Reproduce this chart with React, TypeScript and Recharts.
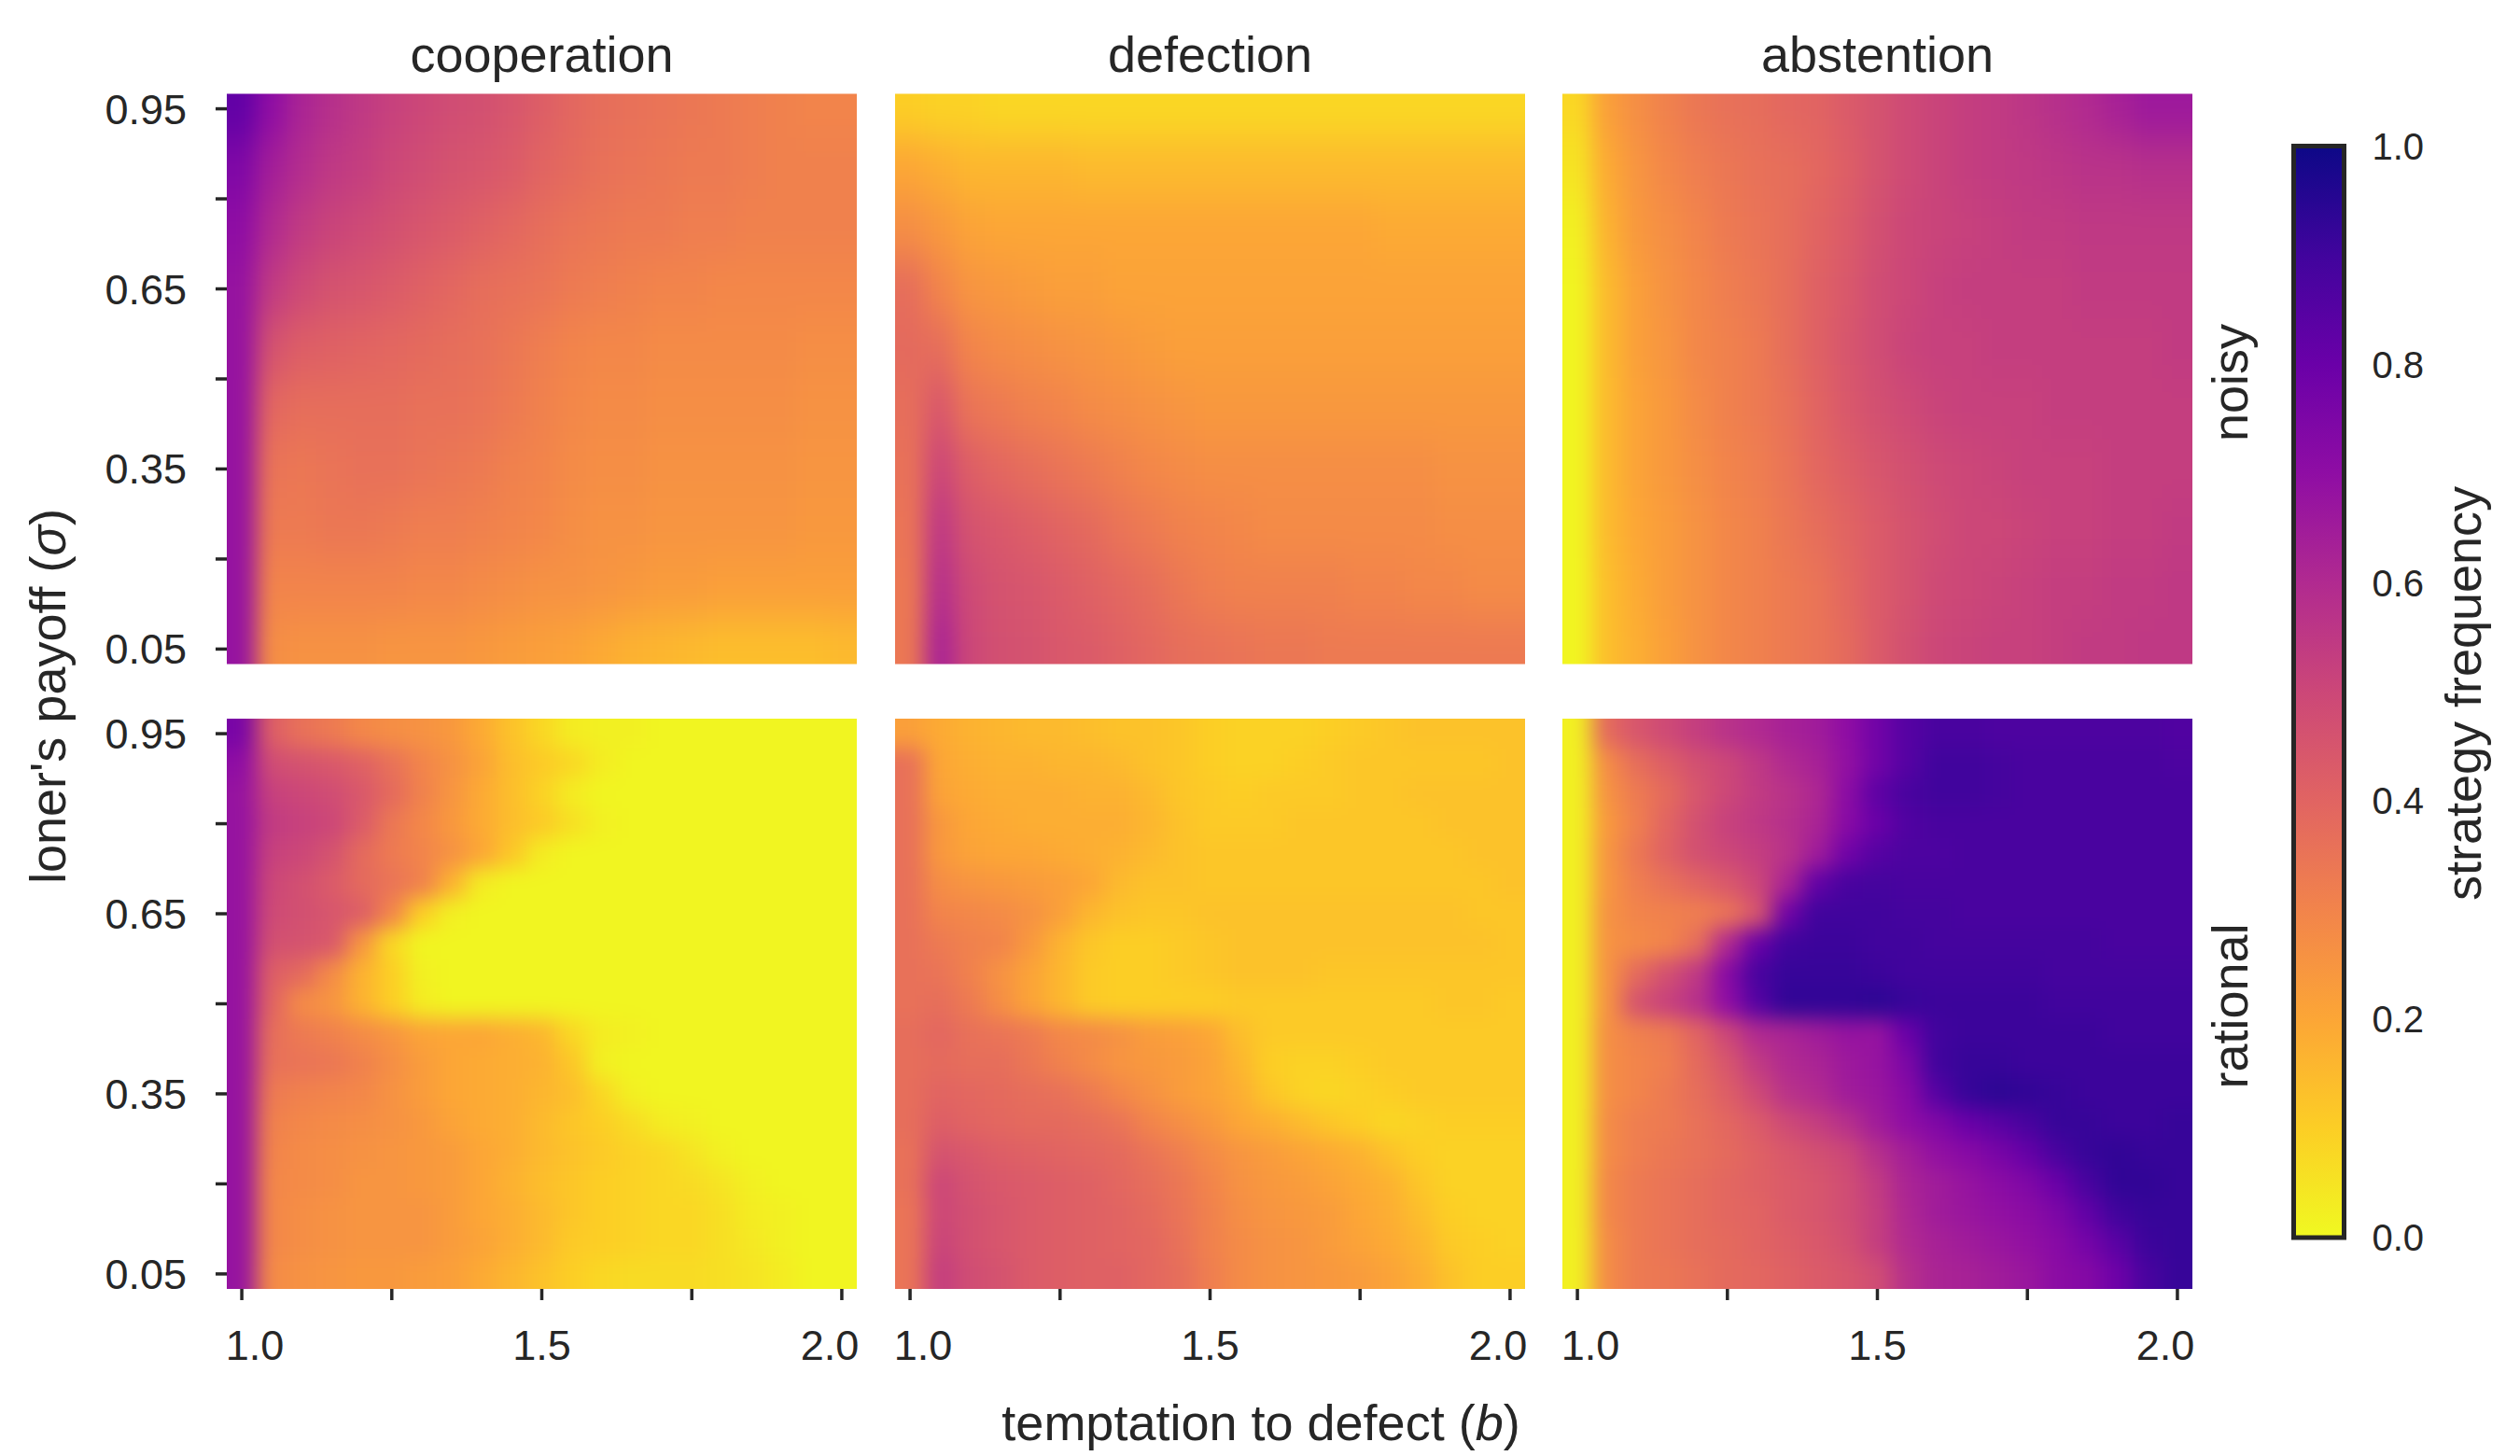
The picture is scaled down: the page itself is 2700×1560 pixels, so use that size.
import React from 'react';
import { ScatterChart, Scatter, XAxis, YAxis, BarChart, Bar } from 'recharts';

const temptation = [1, 1.05, 1.1, 1.15, 1.2, 1.25, 1.3, 1.35, 1.4, 1.45, 1.5, 1.55, 1.6, 1.65, 1.7, 1.75, 1.8, 1.85, 1.9, 1.95, 2];
const sigmaNoisy = [0.95, 0.85, 0.75, 0.65, 0.55, 0.45, 0.35, 0.25, 0.15, 0.05];
const sigmaRational = [0.95, 0.9, 0.85, 0.8, 0.75, 0.7, 0.65, 0.6, 0.55, 0.5, 0.45, 0.4, 0.35, 0.3, 0.25, 0.2, 0.15, 0.1, 0.05];

// percentages, one row per sigma (top to bottom), one column per b
const noisyCooperation = [
  [82, 70, 62, 58, 55, 52, 50, 48, 47, 45, 42, 39, 37, 36, 35, 34, 33, 32, 31, 30, 30],
  [74, 64, 59, 55, 53, 50, 48, 46, 45, 43, 40, 38, 36, 35, 34, 33, 33, 32, 31, 31, 31],
  [70, 60, 54, 51, 49, 47, 45, 43, 41, 39, 37, 35, 34, 33, 33, 32, 32, 31, 31, 31, 31],
  [68, 54, 49, 46, 45, 43, 41, 39, 37, 36, 35, 33, 32, 31, 30, 30, 29, 29, 29, 29, 29],
  [68, 46, 42, 41, 40, 39, 38, 37, 36, 34, 32, 30, 29, 29, 28, 28, 28, 28, 28, 27, 27],
  [68, 39, 37, 37, 37, 37, 36, 36, 35, 33, 31, 29, 28, 28, 27, 27, 27, 27, 27, 26, 26],
  [68, 35, 34, 35, 36, 36, 35, 34, 33, 31, 30, 28, 27, 27, 26, 26, 26, 26, 26, 25, 25],
  [68, 33, 33, 34, 34, 33, 32, 32, 31, 30, 29, 27, 26, 26, 25, 25, 25, 25, 25, 24, 24],
  [68, 30, 30, 30, 30, 30, 29, 29, 28, 27, 26, 26, 25, 24, 23, 23, 22, 22, 22, 22, 22],
  [68, 27, 26, 26, 26, 25, 25, 25, 24, 23, 22, 21, 19, 17, 16, 15, 14, 14, 14, 14, 15],
];
const noisyDefection = [
  [10, 9, 9, 8, 8, 8, 8, 8, 8, 8, 8, 8, 8, 8, 8, 8, 8, 8, 8, 8, 8],
  [20, 18, 16, 16, 16, 16, 15, 15, 15, 15, 15, 15, 15, 15, 15, 15, 15, 15, 15, 15, 15],
  [27, 24, 21, 20, 20, 20, 20, 20, 20, 20, 20, 20, 20, 20, 20, 20, 19, 19, 19, 19, 19],
  [37, 30, 25, 24, 23, 22, 22, 21, 21, 21, 21, 21, 21, 21, 21, 21, 21, 21, 21, 21, 21],
  [38, 37, 30, 28, 27, 26, 25, 24, 23, 22, 22, 22, 22, 22, 22, 22, 22, 22, 22, 22, 22],
  [37, 44, 35, 33, 31, 30, 28, 27, 26, 25, 24, 24, 24, 24, 24, 24, 24, 24, 24, 24, 24],
  [36, 50, 42, 39, 37, 35, 33, 31, 29, 28, 27, 27, 27, 27, 27, 27, 27, 27, 26, 26, 26],
  [35, 55, 46, 44, 42, 40, 38, 35, 33, 31, 30, 29, 28, 28, 28, 28, 28, 28, 27, 27, 27],
  [34, 58, 49, 46, 45, 43, 41, 39, 37, 34, 32, 31, 31, 31, 31, 30, 30, 29, 29, 28, 28],
  [34, 62, 50, 47, 46, 44, 43, 41, 39, 37, 36, 35, 34, 34, 33, 33, 33, 33, 33, 33, 33],
];
const noisyAbstention = [
  [8, 22, 27, 31, 34, 36, 37, 39, 40, 43, 46, 49, 51, 53, 54, 56, 58, 60, 63, 66, 66],
  [5, 19, 25, 29, 32, 34, 36, 37, 39, 42, 46, 49, 51, 53, 54, 55, 56, 57, 57, 58, 58],
  [2, 17, 24, 27, 30, 33, 35, 37, 40, 43, 47, 50, 51, 52, 53, 54, 54, 55, 55, 55, 55],
  [1, 15, 22, 26, 29, 32, 34, 37, 41, 44, 48, 50, 52, 53, 53, 53, 53, 54, 54, 54, 54],
  [1, 15, 22, 25, 29, 31, 33, 37, 41, 45, 48, 51, 52, 52, 53, 53, 53, 53, 53, 53, 54],
  [1, 15, 21, 24, 28, 31, 33, 36, 40, 44, 47, 49, 51, 52, 52, 52, 53, 53, 53, 53, 53],
  [1, 15, 21, 24, 27, 30, 32, 35, 39, 42, 45, 47, 49, 50, 51, 52, 52, 52, 53, 53, 53],
  [1, 15, 20, 23, 26, 29, 31, 34, 37, 40, 43, 46, 48, 50, 50, 51, 52, 52, 53, 53, 54],
  [1, 14, 19, 23, 26, 29, 31, 33, 35, 39, 43, 46, 49, 50, 51, 52, 53, 53, 54, 54, 55],
  [1, 14, 18, 22, 26, 29, 31, 33, 35, 38, 43, 47, 50, 51, 52, 52, 53, 54, 54, 55, 55],
];
const rationalCooperation = [
  [76, 42, 36, 33, 29, 27, 26, 24, 19, 13, 8, 3, 2, 2, 1, 1, 1, 1, 1, 1, 1],
  [70, 48, 46, 44, 41, 36, 30, 26, 21, 14, 11, 8, 3, 1, 1, 1, 1, 1, 1, 1, 1],
  [68, 52, 50, 48, 44, 38, 31, 25, 19, 14, 9, 3, 1, 1, 1, 1, 1, 1, 1, 1, 1],
  [68, 54, 52, 50, 43, 34, 29, 24, 19, 14, 11, 6, 2, 1, 1, 1, 1, 1, 1, 1, 1],
  [68, 52, 50, 46, 38, 33, 30, 26, 20, 12, 3, 1, 1, 1, 1, 1, 1, 1, 1, 1, 1],
  [68, 50, 47, 43, 38, 35, 31, 17, 3, 1, 1, 1, 1, 1, 1, 1, 1, 1, 1, 1, 1],
  [68, 49, 47, 45, 42, 30, 10, 2, 1, 1, 1, 1, 1, 1, 1, 1, 1, 1, 1, 1, 1],
  [68, 47, 46, 44, 25, 8, 1, 1, 1, 1, 1, 1, 1, 1, 1, 1, 1, 1, 1, 1, 1],
  [68, 42, 38, 28, 17, 10, 2, 1, 1, 1, 1, 1, 1, 1, 1, 1, 1, 1, 1, 1, 1],
  [68, 40, 28, 25, 17, 10, 3, 1, 1, 1, 1, 1, 1, 1, 1, 1, 1, 1, 1, 1, 1],
  [68, 37, 33, 31, 28, 25, 21, 20, 20, 18, 16, 8, 3, 2, 1, 1, 1, 1, 1, 1, 1],
  [68, 36, 35, 34, 31, 27, 23, 20, 19, 18, 17, 12, 2, 1, 1, 1, 1, 1, 1, 1, 1],
  [68, 33, 31, 30, 29, 26, 23, 20, 19, 18, 16, 14, 8, 2, 1, 1, 1, 1, 1, 1, 1],
  [68, 31, 29, 28, 27, 26, 24, 21, 19, 18, 15, 12, 10, 7, 3, 2, 1, 1, 1, 1, 1],
  [68, 30, 28, 27, 26, 25, 24, 23, 20, 18, 15, 13, 11, 9, 8, 5, 2, 1, 1, 1, 1],
  [68, 29, 28, 27, 25, 25, 24, 23, 20, 17, 14, 12, 10, 9, 8, 7, 5, 2, 1, 1, 1],
  [68, 29, 27, 26, 25, 25, 25, 23, 20, 18, 15, 12, 10, 9, 8, 8, 6, 3, 2, 1, 1],
  [68, 29, 27, 26, 25, 25, 25, 23, 21, 18, 15, 11, 10, 9, 8, 8, 6, 4, 2, 1, 1],
  [68, 28, 26, 25, 24, 24, 23, 22, 19, 16, 13, 10, 8, 7, 7, 7, 6, 5, 3, 1, 1],
];
const rationalDefection = [
  [22, 19, 17, 16, 15, 15, 14, 13, 13, 12, 10, 9, 9, 9, 10, 11, 12, 13, 13, 13, 13],
  [36, 20, 18, 17, 17, 16, 16, 15, 13, 12, 10, 9, 9, 10, 11, 12, 12, 12, 12, 12, 13],
  [36, 21, 19, 18, 18, 18, 17, 17, 15, 12, 11, 10, 11, 11, 11, 12, 12, 13, 13, 13, 13],
  [36, 24, 20, 19, 18, 18, 18, 18, 16, 13, 11, 11, 11, 12, 12, 12, 12, 12, 13, 13, 13],
  [36, 24, 21, 20, 20, 19, 18, 17, 15, 13, 12, 12, 12, 12, 12, 12, 12, 12, 12, 13, 13],
  [36, 27, 25, 24, 23, 22, 20, 15, 13, 13, 12, 12, 12, 12, 12, 12, 12, 12, 12, 12, 13],
  [36, 30, 29, 28, 26, 22, 16, 13, 12, 12, 13, 13, 13, 13, 13, 13, 13, 13, 13, 12, 12],
  [36, 33, 31, 30, 24, 17, 12, 10, 10, 11, 12, 13, 13, 13, 13, 13, 13, 13, 13, 13, 12],
  [36, 35, 31, 26, 21, 16, 11, 10, 10, 11, 12, 13, 13, 13, 12, 12, 12, 12, 12, 12, 12],
  [36, 37, 33, 27, 21, 16, 11, 10, 10, 10, 10, 11, 11, 11, 11, 11, 11, 11, 12, 12, 11],
  [37, 39, 36, 35, 33, 29, 28, 26, 23, 22, 20, 14, 11, 11, 11, 11, 11, 11, 11, 11, 11],
  [37, 38, 37, 37, 34, 31, 28, 25, 24, 23, 21, 16, 10, 9, 9, 10, 11, 11, 11, 11, 11],
  [37, 40, 39, 38, 37, 36, 33, 29, 26, 23, 21, 18, 12, 9, 8, 9, 10, 11, 11, 11, 11],
  [37, 42, 40, 39, 38, 38, 37, 35, 30, 27, 24, 20, 18, 15, 12, 10, 8, 9, 10, 10, 10],
  [36, 46, 44, 42, 41, 40, 39, 38, 35, 32, 28, 25, 23, 21, 19, 17, 13, 10, 9, 9, 9],
  [36, 50, 46, 44, 43, 42, 41, 39, 37, 34, 30, 26, 24, 23, 21, 19, 17, 12, 9, 9, 9],
  [35, 50, 47, 45, 43, 42, 41, 40, 38, 35, 31, 27, 25, 24, 23, 20, 18, 14, 10, 9, 9],
  [35, 51, 47, 45, 43, 42, 41, 40, 39, 36, 31, 28, 26, 25, 23, 21, 19, 16, 11, 10, 9],
  [35, 53, 48, 46, 43, 42, 41, 41, 39, 37, 32, 28, 26, 25, 24, 23, 21, 18, 13, 10, 10],
];
const rationalAbstention = [
  [2, 38, 45, 49, 53, 57, 60, 63, 65, 70, 78, 85, 88, 88, 87, 87, 87, 87, 87, 87, 86],
  [2, 28, 37, 42, 47, 50, 55, 60, 63, 69, 78, 85, 90, 90, 89, 88, 88, 88, 88, 88, 87],
  [2, 26, 33, 38, 45, 50, 54, 57, 61, 71, 83, 88, 90, 90, 89, 88, 88, 88, 88, 88, 88],
  [2, 24, 32, 40, 47, 52, 55, 58, 62, 72, 80, 86, 88, 88, 88, 88, 88, 88, 88, 88, 88],
  [2, 25, 34, 41, 47, 50, 53, 57, 65, 78, 85, 87, 87, 88, 88, 88, 88, 88, 88, 88, 88],
  [2, 25, 32, 36, 40, 44, 50, 62, 82, 88, 89, 88, 88, 88, 88, 88, 88, 88, 88, 88, 88],
  [2, 26, 30, 31, 32, 35, 45, 78, 90, 90, 90, 89, 89, 88, 88, 88, 88, 88, 88, 88, 88],
  [2, 26, 28, 30, 37, 60, 80, 90, 91, 91, 90, 90, 89, 89, 89, 89, 89, 89, 88, 88, 88],
  [2, 26, 38, 47, 55, 72, 88, 92, 92, 92, 91, 90, 90, 90, 90, 90, 89, 89, 89, 89, 89],
  [2, 26, 46, 52, 58, 70, 85, 93, 93, 93, 94, 92, 91, 91, 91, 91, 90, 90, 90, 90, 90],
  [2, 27, 31, 33, 40, 50, 60, 62, 65, 68, 68, 80, 90, 91, 91, 91, 91, 91, 90, 90, 90],
  [2, 27, 30, 32, 38, 45, 54, 60, 62, 66, 68, 75, 90, 92, 92, 91, 91, 91, 91, 91, 91],
  [2, 27, 30, 33, 37, 42, 49, 57, 60, 65, 67, 72, 85, 92, 94, 93, 92, 91, 91, 91, 91],
  [2, 28, 32, 33, 36, 39, 43, 49, 53, 58, 65, 70, 74, 80, 84, 88, 92, 92, 91, 91, 92],
  [2, 28, 32, 34, 36, 38, 41, 44, 47, 50, 58, 64, 69, 72, 76, 81, 88, 92, 93, 92, 92],
  [2, 29, 33, 35, 37, 39, 41, 43, 45, 48, 54, 62, 65, 68, 71, 74, 80, 88, 93, 93, 92],
  [2, 29, 33, 35, 37, 39, 40, 43, 45, 48, 53, 61, 65, 67, 69, 71, 75, 82, 90, 92, 92],
  [2, 28, 33, 35, 37, 38, 40, 42, 44, 47, 53, 60, 63, 65, 67, 69, 72, 77, 84, 91, 92],
  [2, 28, 33, 34, 36, 38, 39, 41, 43, 45, 48, 58, 62, 63, 65, 67, 71, 73, 79, 88, 92],
];

const columnTitles = ['cooperation', 'defection', 'abstention'];
const rowTitles = ['noisy', 'rational'];
const xTicks = [1, 1.25, 1.5, 1.75, 2];
const yTicks = [0.05, 0.2, 0.35, 0.5, 0.65, 0.8, 0.95];
const xLabelled: Record<string, number> = { '1': 14, '1.5': 0, '2': -13 };
const yLabelled = [0.05, 0.35, 0.65, 0.95];
const colorbarTicks = [0, 0.2, 0.4, 0.6, 0.8, 1];
const colorbarData = [{ name: 'strategy frequency', value: 1 }];
// plasma, reversed: index 0 = frequency 0
const palette = ['#f0f921', '#fcce25', '#fca636', '#f2844b', '#e16462', '#cc4778', '#b12a90', '#8f0da4', '#6a00a8', '#41049d', '#0d0887'];

const INK = '#262626';
const FONT = '"Liberation Sans", Arial, sans-serif';
const W = 2700;
const H = 1560;
const PLOT_W = 675;
const PLOT_H = 611;
const lefts = [243, 959, 1674];
const tops = [100.5, 770];
const B_DOMAIN: [number, number] = [0.975, 2.025];
const S_DOMAIN: [number, number] = [0.025, 0.975];
const PX_B = PLOT_W / (B_DOMAIN[1] - B_DOMAIN[0]);
const PX_S = PLOT_H / (S_DOMAIN[1] - S_DOMAIN[0]);

function hexRgb(h: string) {
  return [1, 3, 5].map((i) => parseInt(h.slice(i, i + 2), 16));
}
function colorOf(pct: number) {
  const t = Math.max(0, Math.min(0.9999, pct / 100)) * (palette.length - 1);
  const i = Math.floor(t);
  const a = hexRgb(palette[i]);
  const b = hexRgb(palette[i + 1]);
  const f = t - i;
  return `rgb(${a.map((c, k) => Math.round(c + (b[k] - c) * f)).join(',')})`;
}

function toCells(rows: number[][], sigmas: number[]) {
  return sigmas.flatMap((s, i) => temptation.map((b, j) => ({ b, s, v: rows[i][j] })));
}

const makeShape = (stepS: number) => (props: any) => {
  const { cx, cy, payload } = props;
  const w = 0.05 * PX_B;
  const h = stepS * PX_S;
  let x0 = cx - w / 2 - 0.5;
  let x1 = cx + w / 2 + 0.5;
  let y0 = cy - h / 2 - 0.5;
  let y1 = cy + h / 2 + 0.5;
  const pad = 110;
  if (payload.b === temptation[0]) x0 -= pad;
  if (payload.b === temptation[temptation.length - 1]) x1 += pad;
  if (payload.s === 0.95) y0 -= pad;
  if (payload.s === 0.05) y1 += pad;
  return <rect x={x0} y={y0} width={x1 - x0} height={y1 - y0} fill={colorOf(payload.v)} stroke="none" />;
};

const panels = [
  { key: 0, col: 0, row: 0, data: toCells(noisyCooperation, sigmaNoisy), step: 0.1 },
  { key: 1, col: 1, row: 0, data: toCells(noisyDefection, sigmaNoisy), step: 0.1 },
  { key: 2, col: 2, row: 0, data: toCells(noisyAbstention, sigmaNoisy), step: 0.1 },
  { key: 3, col: 0, row: 1, data: toCells(rationalCooperation, sigmaRational), step: 0.05 },
  { key: 4, col: 1, row: 1, data: toCells(rationalDefection, sigmaRational), step: 0.05 },
  { key: 5, col: 2, row: 1, data: toCells(rationalAbstention, sigmaRational), step: 0.05 },
];

const XTick = (p: any) => {
  const v = p.payload.value;
  const shift = xLabelled[String(v)];
  if (shift === undefined) return <g />;
  return (
    <text x={p.x + shift} y={p.y + 64} textAnchor="middle" fontSize={45} fontFamily={FONT} fill={INK}>
      {v.toFixed(1)}
    </text>
  );
};

const layer: React.CSSProperties = { position: 'absolute', left: 0, top: 0, pointerEvents: 'none' };

function Panel({ p }: { p: (typeof panels)[number] }) {
  const left = lefts[p.col];
  const top = tops[p.row];
  const showX = p.row === 1;
  const showY = p.col === 0;
  return (
    <div style={layer}>
      <ScatterChart
        width={W}
        height={H}
        margin={{
          left: showY ? left - 1 : left,
          top,
          right: W - left - PLOT_W,
          bottom: H - top - PLOT_H - (showX ? 1 : 0),
        }}
      >
        <XAxis
          dataKey="b"
          type="number"
          domain={B_DOMAIN}
          ticks={xTicks}
          interval={0}
          hide={!showX}
          height={1}
          axisLine={false}
          tickSize={12}
          tickMargin={0}
          tickLine={{ stroke: INK, strokeWidth: 3.5 }}
          tick={XTick}
        />
        <YAxis
          dataKey="s"
          type="number"
          domain={S_DOMAIN}
          ticks={yTicks}
          interval={0}
          hide={!showY}
          width={1}
          axisLine={false}
          tickSize={12}
          tickMargin={31}
          tickLine={{ stroke: INK, strokeWidth: 3.5 }}
          tick={{ fontSize: 45, fontFamily: FONT, fill: INK }}
          tickFormatter={(v: number) => (yLabelled.includes(v) ? v.toFixed(2) : '')}
        />
        <Scatter
          className={`hm${p.key}`}
          data={p.data}
          isAnimationActive={false}
          shape={makeShape(p.step)}
        />
      </ScatterChart>
    </div>
  );
}

export default function App() {
  const css = panels
    .map((p) => `.hm${p.key}{filter:url(#${p.row === 0 ? 'blurNoisy' : 'blurRational'});clip-path:url(#clip${p.key});}`)
    .join('\n');
  const textBase = { fontFamily: FONT, fill: INK, fontSize: 54 };
  return (
    <div style={{ position: 'absolute', left: 0, top: 0, width: W, height: H, background: '#fff', overflow: 'hidden' }}>
      <style>{css}</style>
      <svg width="0" height="0" style={{ position: 'absolute' }}>
        <defs>
          <filter id="blurNoisy" colorInterpolationFilters="sRGB" x="-10%" y="-10%" width="120%" height="120%">
            <feGaussianBlur stdDeviation="11 22" />
          </filter>
          <filter id="blurRational" colorInterpolationFilters="sRGB" x="-10%" y="-10%" width="120%" height="120%">
            <feGaussianBlur stdDeviation="11 11" />
          </filter>
          {panels.map((p) => (
            <clipPath id={`clip${p.key}`} key={p.key} clipPathUnits="userSpaceOnUse">
              <rect x={lefts[p.col]} y={tops[p.row]} width={PLOT_W} height={PLOT_H} />
            </clipPath>
          ))}
          <linearGradient id="plasmaBar" x1="0" y1="1" x2="0" y2="0">
            {palette.map((c, i) => (
              <stop key={c} offset={i / (palette.length - 1)} stopColor={c} />
            ))}
          </linearGradient>
        </defs>
      </svg>

      {panels.map((p) => (
        <Panel key={p.key} p={p} />
      ))}

      <div style={layer}>
        <BarChart
          width={W}
          height={H}
          data={colorbarData}
          barCategoryGap={0}
          margin={{ left: 2457.5, top: 156.5, right: W - 2511.5 - 1, bottom: H - 1326 }}
        >
          <XAxis dataKey="name" hide />
          <YAxis
            orientation="right"
            type="number"
            domain={[0, 1]}
            ticks={colorbarTicks}
            interval={0}
            width={1}
            axisLine={false}
            tickLine={false}
            tickSize={0}
            tickMargin={30}
            tick={{ fontSize: 40, fontFamily: FONT, fill: INK }}
            tickFormatter={(v: number) => v.toFixed(1)}
          />
          <Bar dataKey="value" fill="url(#plasmaBar)" stroke={INK} strokeWidth={5} isAnimationActive={false} />
        </BarChart>
      </div>

      <svg width={W} height={H} style={layer}>
        {columnTitles.map((t, i) => (
          <text key={t} x={lefts[i] + PLOT_W / 2} y={77} textAnchor="middle" {...textBase}>
            {t}
          </text>
        ))}
        {rowTitles.map((t, i) => (
          <text
            key={t}
            transform={`translate(2408 ${i === 0 ? 410 : 1078}) rotate(-90)`}
            textAnchor="middle"
            {...textBase}
          >
            {t}
          </text>
        ))}
        <text x={1351} y={1543} textAnchor="middle" {...textBase}>
          temptation to defect (<tspan fontStyle="italic">b</tspan>)
        </text>
        <text transform="translate(70 746) rotate(-90)" textAnchor="middle" {...textBase}>
          loner's payoff (<tspan fontStyle="italic">σ</tspan>)
        </text>
        <text transform="translate(2658 743) rotate(-90)" textAnchor="middle" {...textBase}>
          strategy frequency
        </text>
      </svg>
    </div>
  );
}
